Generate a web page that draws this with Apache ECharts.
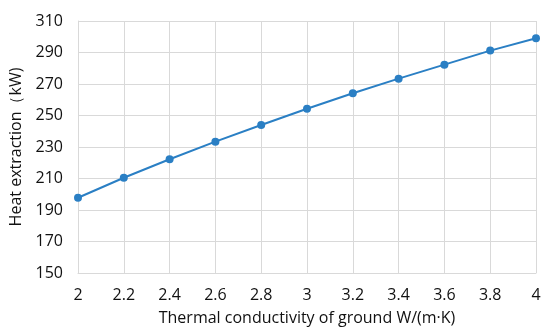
<!DOCTYPE html>
<html>
<head>
<meta charset="utf-8">
<script src="https://cdn.jsdelivr.net/npm/echarts@6/dist/echarts.min.js"></script>
<style>html,body{margin:0;padding:0;background:#fff}#c{width:550px;height:333px}</style>
</head>
<body>
<div id="c"></div>
<script>
const conductivity = [2, 2.2, 2.4, 2.6, 2.8, 3, 3.2, 3.4, 3.6, 3.8, 4];
const heatExtraction = [197.8, 210.5, 222.2, 233.4, 244.0, 254.3, 264.1, 273.4, 282.3, 291.2, 299.1];
const xAxisName = 'Thermal conductivity of ground W/(m·K)';
const yAxisName = 'Heat extraction（kW)';

const chart = echarts.init(document.getElementById('c'));
const font = '"Open Sans", "Noto Sans", sans-serif';
chart.setOption({
  animation: false,
  textStyle: { fontFamily: font },
  grid: { left: 78, right: 14, top: 21, bottom: 60, containLabel: false },
  xAxis: {
    type: 'value', min: 2, max: 4, interval: 0.2,
    name: xAxisName, nameLocation: 'middle', nameGap: 37,
    nameTextStyle: { fontSize: 16, color: '#111', fontFamily: font },
    axisLine: { show: true, lineStyle: { color: '#d9d9d9', width: 1 } },
    axisTick: { show: false },
    axisLabel: { fontSize: 16, color: '#111', margin: 14, fontFamily: font,
      formatter: v => String(Math.round(v * 10) / 10) },
    splitLine: { show: true, lineStyle: { color: '#d9d9d9', width: 1 } }
  },
  yAxis: {
    type: 'value', min: 150, max: 310, interval: 20,
    name: yAxisName, nameLocation: 'middle', nameGap: 50,
    nameTextStyle: { fontSize: 16, color: '#111', fontFamily: font },
    axisLine: { show: true, lineStyle: { color: '#d9d9d9', width: 1 } },
    axisTick: { show: false },
    axisLabel: { fontSize: 16, color: '#111', margin: 15, fontFamily: font },
    splitLine: { show: true, lineStyle: { color: '#d9d9d9', width: 1 } }
  },
  series: [{
    type: 'line',
    data: conductivity.map((x, i) => [x, heatExtraction[i]]),
    symbol: 'circle', symbolSize: 8,
    lineStyle: { color: '#2a7fc4', width: 2 },
    itemStyle: { color: '#2a7fc4' }
  }]
});
</script>
</body>
</html>
